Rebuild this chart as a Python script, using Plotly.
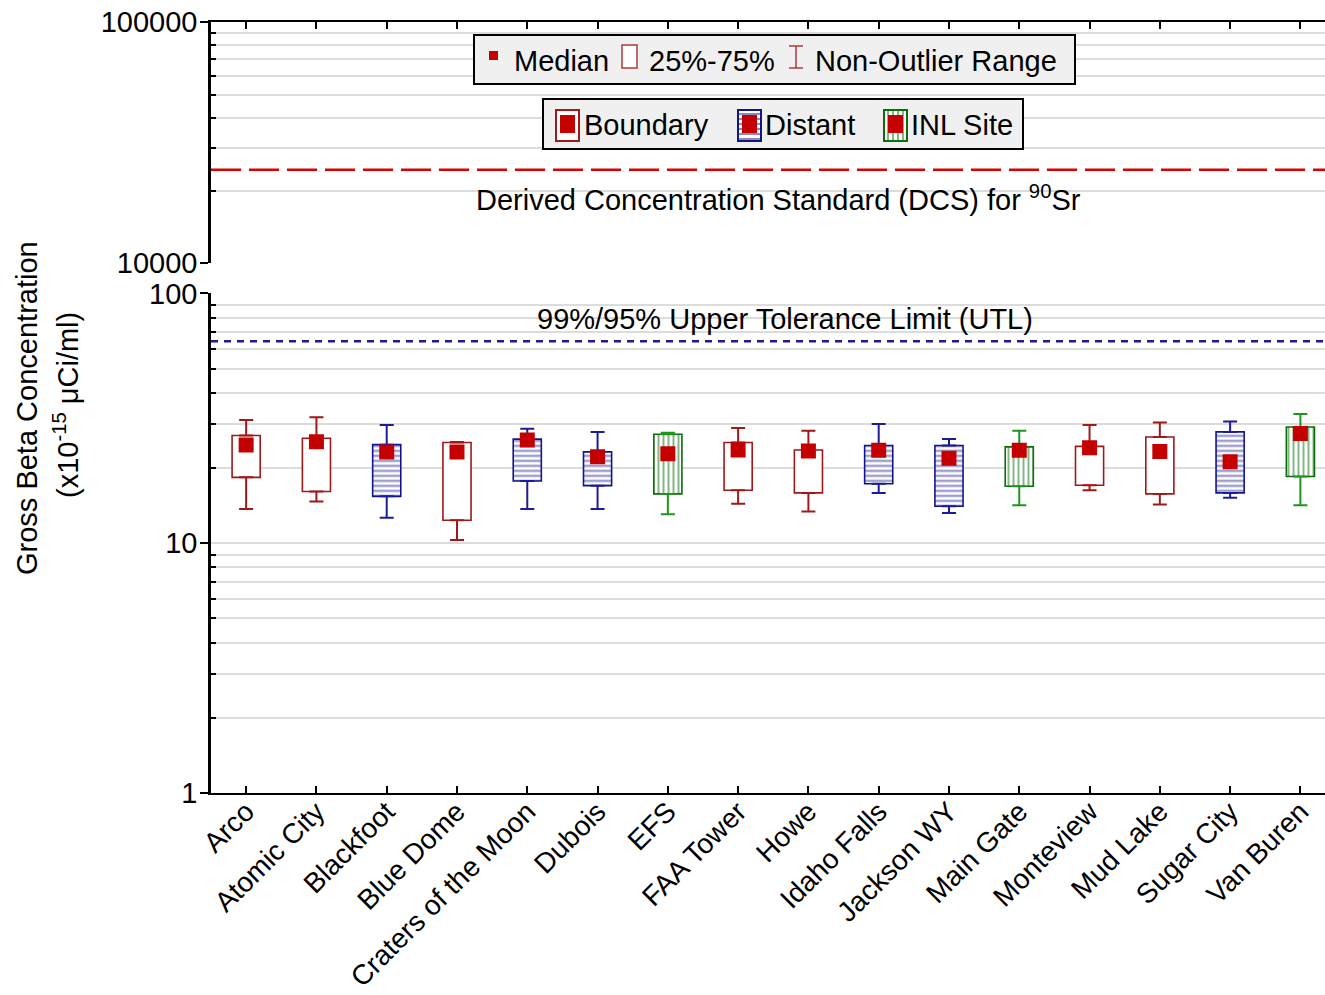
import plotly.graph_objects as go

# Station summary statistics (x10^-15 uCi/ml)
stations = ["Arco", "Atomic City", "Blackfoot", "Blue Dome", "Craters of the Moon",
            "Dubois", "EFS", "FAA Tower", "Howe", "Idaho Falls", "Jackson WY",
            "Main Gate", "Monteview", "Mud Lake", "Sugar City", "Van Buren"]
groups = ["Boundary", "Boundary", "Distant", "Boundary", "Distant",
          "Distant", "INL Site", "Boundary", "Boundary", "Distant", "Distant",
          "INL Site", "Boundary", "Boundary", "Distant", "INL Site"]
whisker_low = [13.7, 14.7, 12.65, 10.3, 13.7, 13.7, 13.05, 14.4, 13.4, 15.9, 13.2, 14.2, 16.3, 14.3, 15.2, 14.2]
q1 = [18.35, 16.1, 15.4, 12.35, 17.75, 17.0, 15.75, 16.3, 15.9, 17.3, 14.05, 16.9, 17.05, 15.75, 15.9, 18.5]
median = [24.7, 25.5, 23.2, 23.2, 25.9, 22.2, 22.8, 23.6, 23.4, 23.55, 21.9, 23.55, 24.1, 23.3, 21.2, 27.5]
q3 = [27.0, 26.3, 24.8, 25.3, 26.1, 23.2, 27.3, 25.3, 23.6, 24.6, 24.6, 24.3, 24.4, 26.6, 27.9, 29.2]
whisker_high = [31.1, 31.9, 29.7, 25.4, 28.7, 27.9, 27.7, 28.9, 28.2, 30.0, 26.1, 28.2, 29.7, 30.4, 30.7, 32.9]

dcs_value = 24400      # Derived Concentration Standard for Sr-90
utl_value = 64.4       # 99%/95% upper tolerance limit

group_order = ["Boundary", "Distant", "INL Site"]
box_color = {"Boundary": "#a01818", "Distant": "#14148a", "INL Site": "#0a6e0a"}
whisk_color = {"Boundary": "#a01818", "Distant": "#1c1c96", "INL Site": "#1f941f"}
pattern_shape = {"Boundary": "", "Distant": "-", "INL Site": "|"}
median_color = "#c40000"

FONT = "Liberation Sans, Arial, sans-serif"
FS = 29
W, H = 1325, 995
L, R, T, B = 211, 0, 22, 202
PW, PH = W - L - R, H - T - B


def px(xp):
    return (xp - L) / PW


def py(yp):
    return (H - B - yp) / PH


fig = go.Figure()

for g in group_order:
    idx = [i for i, gg in enumerate(groups) if gg == g]
    xs = [stations[i] for i in idx]
    # interquartile boxes
    fig.add_trace(go.Bar(
        x=xs, base=[q1[i] for i in idx], y=[q3[i] - q1[i] for i in idx],
        width=0.4, xaxis="x", yaxis="y",
        marker=dict(color="white", line=dict(color=box_color[g], width=1.6),
                    pattern=dict(shape=pattern_shape[g], fgcolor=box_color[g],
                                 bgcolor="white", size=5, solidity=0.4)),
        showlegend=False, hoverinfo="skip"))
    # upper whiskers
    fig.add_trace(go.Scatter(
        x=xs, y=[q3[i] for i in idx], mode="markers", xaxis="x", yaxis="y",
        marker=dict(size=1, color="rgba(0,0,0,0)"),
        error_y=dict(type="data", symmetric=False,
                     array=[whisker_high[i] - q3[i] for i in idx],
                     arrayminus=[0] * len(idx),
                     color=whisk_color[g], thickness=2, width=7),
        showlegend=False, hoverinfo="skip"))
    # lower whiskers
    fig.add_trace(go.Scatter(
        x=xs, y=[q1[i] for i in idx], mode="markers", xaxis="x", yaxis="y",
        marker=dict(size=1, color="rgba(0,0,0,0)"),
        error_y=dict(type="data", symmetric=False,
                     array=[0] * len(idx),
                     arrayminus=[q1[i] - whisker_low[i] for i in idx],
                     color=whisk_color[g], thickness=2, width=7),
        showlegend=False, hoverinfo="skip"))

# medians
fig.add_trace(go.Scatter(
    x=stations, y=median, mode="markers", xaxis="x", yaxis="y",
    marker=dict(symbol="square", size=15, color=median_color, line=dict(width=0)),
    showlegend=False, hoverinfo="skip"))

# invisible trace to activate the upper panel
fig.add_trace(go.Scatter(x=stations, y=[None] * len(stations), xaxis="x2", yaxis="y2",
                         mode="markers", showlegend=False, hoverinfo="skip"))

grid = "#dcdcdc"
tickfont = dict(family=FONT, size=FS, color="black")

fig.update_layout(
    width=W, height=H,
    margin=dict(l=L, r=R, t=T, b=B, autoexpand=False),
    paper_bgcolor="white", plot_bgcolor="white",
    font=dict(family=FONT, size=FS, color="black"),
    barmode="overlay",
    showlegend=False,
    xaxis=dict(domain=[0, 1], anchor="y", type="category", automargin=False,
               categoryorder="array", categoryarray=stations,
               range=[-0.5, 15.35], tickangle=-45,
               tickfont=dict(family=FONT, size=28, color="black"),
               ticklabelstandoff=-11,
               showline=True, linecolor="black", linewidth=2,
               ticks="inside", ticklen=7, tickwidth=2, tickcolor="black",
               showgrid=False, zeroline=False),
    xaxis2=dict(domain=[0, 1], anchor="y2", side="top", matches="x", automargin=False,
                type="category", categoryorder="array", categoryarray=stations,
                showticklabels=False, showline=True, linecolor="black", linewidth=2,
                ticks="inside", ticklen=7, tickwidth=2, tickcolor="black",
                showgrid=False, zeroline=False),
    yaxis=dict(domain=[0, 0.648], anchor="x", type="log", range=[0, 2], automargin=False,
               tickmode="array", tickvals=[1, 10, 100], ticktext=["1", "10", "100"],
               tickfont=tickfont, ticklabelstandoff=-3,
               showline=True, linecolor="black", linewidth=2.5,
               ticks="outside", ticklen=8, tickwidth=2, tickcolor="black",
               showgrid=True, gridcolor=grid, gridwidth=2, zeroline=False,
               minor=dict(tickmode="array",
                          tickvals=[2, 3, 4, 5, 6, 7, 8, 9, 20, 30, 40, 50, 60, 70, 80, 90],
                          ticks="inside", ticklen=5, tickwidth=2, tickcolor="black",
                          showgrid=True, gridcolor=grid, gridwidth=2)),
    yaxis2=dict(domain=[0.687, 1], anchor="x2", type="log", range=[4, 5], automargin=False,
                tickmode="array", tickvals=[10000, 100000], ticktext=["10000", "100000"],
                tickfont=tickfont, ticklabelstandoff=-3,
                showline=True, linecolor="black", linewidth=2.5,
                ticks="outside", ticklen=8, tickwidth=2, tickcolor="black",
                showgrid=True, gridcolor="#ececec", gridwidth=2, zeroline=False,
                minor=dict(tickmode="array",
                           tickvals=[20000, 30000, 40000, 50000, 60000, 70000, 80000, 90000],
                           ticks="inside", ticklen=5, tickwidth=2, tickcolor="black",
                           showgrid=True, gridcolor=grid, gridwidth=2)),
)

shapes = []
annotations = []

# reference lines
shapes.append(dict(type="line", xref="x2 domain", yref="y2", x0=0, x1=1,
                   y0=dcs_value, y1=dcs_value,
                   line=dict(color="#dd0000", width=2.5, dash="30px,8px")))
shapes.append(dict(type="line", xref="x domain", yref="y", x0=0, x1=1,
                   y0=utl_value, y1=utl_value,
                   line=dict(color="#1a1a9a", width=2.5, dash="7px,6px")))

annotations.append(dict(xref="paper", yref="paper", x=px(778), y=py(198),
                        text="Derived Concentration Standard (DCS) for <sup>90</sup>Sr",
                        showarrow=False, xanchor="center", yanchor="middle",
                        font=dict(family=FONT, size=FS, color="black")))
annotations.append(dict(xref="paper", yref="paper", x=px(785), y=py(319),
                        text="99%/95% Upper Tolerance Limit (UTL)",
                        showarrow=False, xanchor="center", yanchor="middle",
                        font=dict(family=FONT, size=FS, color="black")))

# y axis title (two lines)
annotations.append(dict(xref="paper", yref="paper", x=px(27), y=py(408),
                        text="Gross Beta Concentration", textangle=-90,
                        showarrow=False, xanchor="center", yanchor="middle",
                        font=dict(family=FONT, size=FS, color="black")))
annotations.append(dict(xref="paper", yref="paper", x=px(66), y=py(405),
                        text="(x10<sup>-15</sup> \u03bcCi/ml)", textangle=-90,
                        showarrow=False, xanchor="center", yanchor="middle",
                        font=dict(family=FONT, size=FS, color="black")))


def rect(x0, y0, x1, y1, fill, line_color=None, lw=0):
    return dict(type="rect", xref="paper", yref="paper",
                x0=px(x0), x1=px(x1), y0=py(y1), y1=py(y0),
                fillcolor=fill, line=dict(color=line_color or fill, width=lw), layer="above")


def seg(x0, y0, x1, y1, color, lw):
    return dict(type="line", xref="paper", yref="paper",
                x0=px(x0), x1=px(x1), y0=py(y0), y1=py(y1),
                line=dict(color=color, width=lw), layer="above")


def label(x, y, text):
    return dict(xref="paper", yref="paper", x=px(x), y=py(y), text=text,
                showarrow=False, xanchor="left", yanchor="middle",
                font=dict(family=FONT, size=FS, color="black"))


# key: statistics
shapes.append(rect(474, 35, 1075, 84, "#f0f0f0", "black", 2))
shapes.append(rect(489, 51, 498, 60, median_color))
annotations.append(label(512, 61, "Median"))
shapes.append(rect(622, 45, 637, 68, "white", "#b03a3a", 1.5))
annotations.append(label(647, 61, "25%-75%"))
shapes.append(seg(796, 46, 796, 68, "#b03a3a", 1.5))
shapes.append(seg(789, 46, 803, 46, "#b03a3a", 1.5))
shapes.append(seg(789, 68, 803, 68, "#b03a3a", 1.5))
annotations.append(label(813, 61, "Non-Outlier Range"))

# key: station groups
shapes.append(rect(543, 99, 1023, 149, "#f0f0f0", "black", 2))
key_x = {"Boundary": 556, "Distant": 738, "INL Site": 884}
key_text_x = {"Boundary": 582, "Distant": 763, "INL Site": 909}
for g in group_order:
    gx = key_x[g]
    shapes.append(rect(gx, 110, gx + 23, 141, "white", box_color[g], 2))
    if g == "Distant":
        for yy in range(114, 140, 5):
            shapes.append(seg(gx + 1, yy, gx + 22, yy, box_color[g], 1))
    elif g == "INL Site":
        for xx in range(gx + 4, gx + 22, 5):
            shapes.append(seg(xx, 111, xx, 140, box_color[g], 1))
    shapes.append(rect(gx + 4, 115, gx + 19, 133, median_color))
    annotations.append(label(key_text_x[g], 125, g))

fig.update_layout(shapes=shapes, annotations=annotations)

fig.write_html("out.html")
